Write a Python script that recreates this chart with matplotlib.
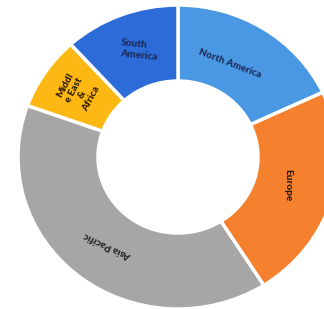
import matplotlib.pyplot as plt

# ==========================================================
# DATA
# ==========================================================

regions = ["North America", "Europe", "Asia Pacific",
           "Middle East & Africa", "South America"]

shares = [18.0, 23.0, 39.5, 7.8, 11.7]

colors = ["#4A97E4", "#F5802E", "#A6A6A6", "#FDB813", "#2C6BD8"]

# ==========================================================
# FIGURE
# ==========================================================

fig = plt.figure(figsize=(3.24, 3.09), dpi=100)
ax = fig.add_axes([0, 0, 1, 1])

ax.pie(
    shares,
    colors=colors,
    startangle=90,
    counterclock=False,
    wedgeprops=dict(width=0.5, edgecolor="white", linewidth=2.5),
)

ax.set_aspect("auto")
ax.set_xlim(-1.1125, 0.9125)
ax.set_ylim(-1.0, 1.033)
ax.axis("off")

font = dict(family=["Lato", "DejaVu Sans"], fontweight="black", fontsize=7.2)

# labels placed in data coords (pixel -> data)
def px(x, y):
    return ((x - 178) / 160.0, (157 - y) / 152.0)

ax.text(*px(230, 64), "North America", rotation=-21, color="#1B2A55",
        ha="center", va="center", **font)
ax.text(*px(288, 185), "Europe", rotation=-90, color="#2A1A10",
        ha="center", va="center", **font)
ax.text(*px(108, 245), "Asia Pacific", rotation=155, color="#222222",
        ha="center", va="center", **font)
ax.text(*px(139, 50), "South\nAmerica", rotation=-6, color="#1B2A55",
        ha="center", va="center", multialignment="left",
        linespacing=1.35, **font)
ax.text(*px(78, 92), "Middl\ne East\n&\nAfrica", rotation=62,
        color="#2A1A00", ha="center", va="center",
        multialignment="center", linespacing=1.1, **font)

plt.savefig("out.png", dpi=100)
